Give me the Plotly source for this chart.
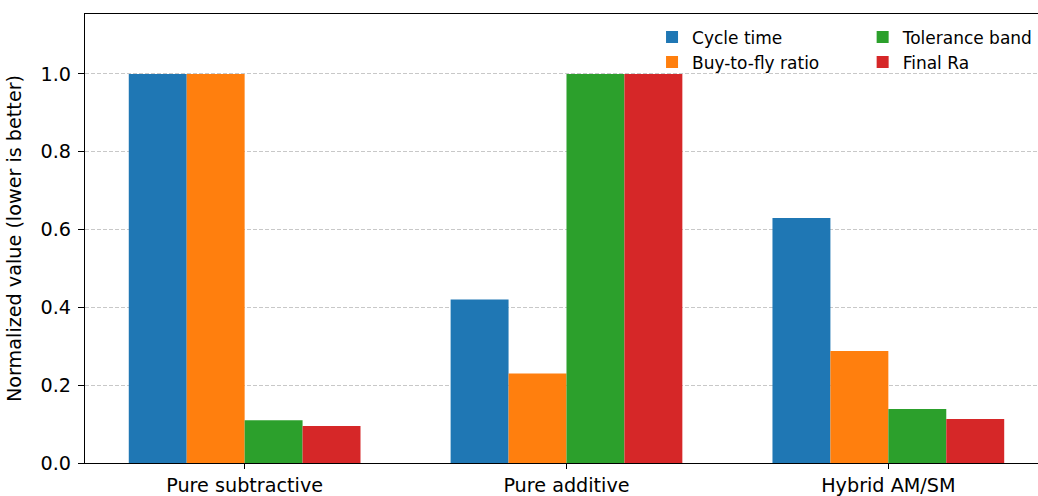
import plotly.graph_objects as go

categories = ["Pure subtractive", "Pure additive", "Hybrid AM/SM"]
series_names = ["Cycle time", "Buy-to-fly ratio", "Tolerance band", "Final Ra"]
cycle_time = [1.0, 0.42, 0.63]
buy_to_fly = [1.0, 0.23, 0.288]
tolerance_band = [0.11, 1.0, 0.139]
final_ra = [0.095, 1.0, 0.113]
colors = ["#1f77b4", "#ff7f0e", "#2ca02c", "#d62728"]
yticks = [0.0, 0.2, 0.4, 0.6, 0.8, 1.0]

values = [cycle_time, buy_to_fly, tolerance_band, final_ra]
legends = ["legend", "legend", "legend2", "legend2"]

FONT = "DejaVu Sans"
TICK = 19.2

fig = go.Figure()
for name, vals, col, lg in zip(series_names, values, colors, legends):
    fig.add_trace(go.Bar(
        x=categories, y=vals, name=name,
        marker=dict(color=col, line=dict(width=0)),
        legend=lg,
    ))

legend_common = dict(
    font=dict(family=FONT, size=17, color="black"),
    bgcolor="rgba(255,255,255,0)",
    borderwidth=0,
    orientation="v",
    xanchor="left", yanchor="top",
    tracegroupgap=0,
    itemwidth=30,
)

fig.update_layout(
    width=1038, height=496,
    template="none",
    paper_bgcolor="white", plot_bgcolor="white",
    margin=dict(l=85, r=0, t=14, b=33, autoexpand=False),
    barmode="group", bargap=0.28, bargroupgap=0,
    font=dict(family=FONT, size=TICK, color="black"),
    showlegend=True,
    legend=dict(x=0.595, y=0.988, **legend_common),
    legend2=dict(x=0.816, y=0.988, **legend_common),
    xaxis=dict(
        type="category", automargin=False,
        range=[-0.496, 2.465],
        showline=True, linecolor="black", linewidth=1.3, mirror=True,
        ticks="outside", ticklen=5, tickwidth=1.2, tickcolor="black",
        showgrid=False, zeroline=False,
        tickfont=dict(family=FONT, size=TICK, color="black"),
    ),
    yaxis=dict(
        automargin=False,
        range=[0, 1.154],
        tickvals=yticks, tickformat=".1f",
        showline=True, linecolor="black", linewidth=1.3,
        ticks="outside", ticklen=6, tickwidth=1.2, tickcolor="black",
        ticklabelstandoff=3,
        showgrid=True, gridcolor="#c8c8c8", gridwidth=0.9, griddash="4px,2px",
        zeroline=False,
        tickfont=dict(family=FONT, size=TICK, color="black"),
        title=dict(text="Normalized value (lower is better)",
                   font=dict(family=FONT, size=TICK, color="black"), standoff=13),
    ),
)

fig.write_html(
    "out.html",
    config={"displayModeBar": False},
    post_script="document.body.style.margin='0';document.body.style.overflow='hidden';",
)
